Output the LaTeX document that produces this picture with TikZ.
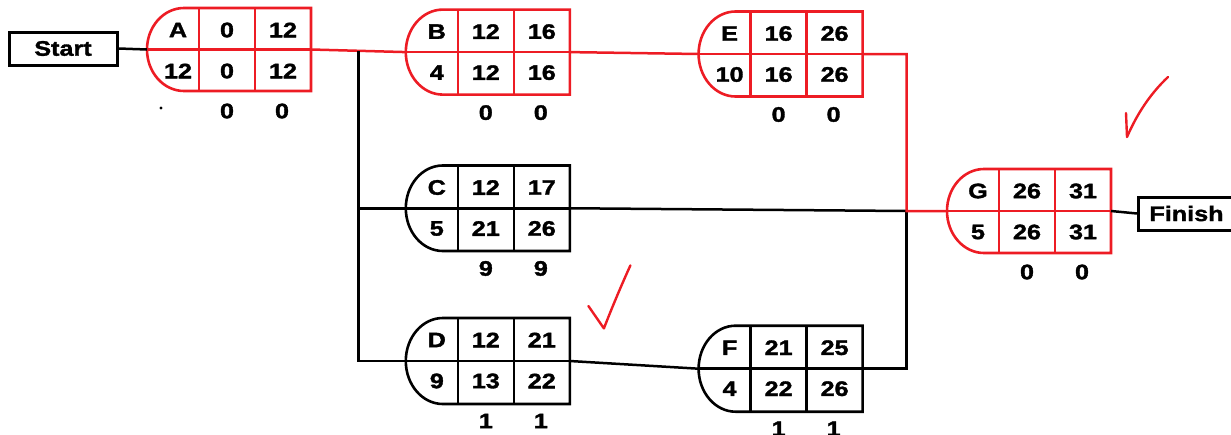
\documentclass[tikz,border=0pt]{standalone}
\usepackage{fontspec}
\newfontfamily\lbl{Liberation Sans}[FakeStretch=1.2, FakeBold=1.6]
\usetikzlibrary{calc}
\definecolor{critred}{RGB}{237,28,36}

% one activity box: name, left x, top y, colour, height
\newcommand\actbox[5]{%
  \begin{scope}[shift={(#2,#3)}, yscale=#5/85]
    \draw[#4, boxline] (37,0) -- (164,0) -- (164,85) -- (37,85)
      .. controls (16.6,85) and (0,66) .. (0,42.5)
      .. controls (0,19) and (16.6,0) .. (37,0) -- cycle;
    \draw[#4, boxline] (0,42.5) -- (164,42.5) (52,0) -- (52,85) (108,0) -- (108,85);
    \coordinate (#1-in) at (0,42.5);
    \coordinate (#1-out) at (164,42.5);
  \end{scope}
  \coordinate (#1-o) at (#2,#3);}
% its entries: name, label, duration, ES, EF, LS, LF, slack under ES, slack under EF
\newcommand\acttext[9]{%
  \begin{scope}[shift={(#1-o)}]
    \node[txt] (#1-name) at (31,22) {#2};
    \node[txt] (#1-dur)  at (31,63) {#3};
    \node[txt] (#1-es)   at (80,22) {#4};
    \node[txt] (#1-ef)   at (136,22) {#5};
    \node[txt] (#1-ls)   at (80,63) {#6};
    \node[txt] (#1-lf)   at (136,63) {#7};
    \node[txt] (#1-s1)   at (80,103) {#8};
    \node[txt] (#1-s2)   at (135,103) {#9};
  \end{scope}}

\begin{document}
\begin{tikzpicture}[x=1pt, y=-1pt,
  txt/.style={inner sep=0pt, font=\lbl\bfseries\fontsize{21}{21}\selectfont},
  boxline/.style={line width=2.6pt, line join=miter},
  plain/.style={line width=2.5pt, black},
  crit/.style={line width=2.5pt, critred},
  termbox/.style={draw, line width=3pt, minimum height=33pt, inner sep=0pt,
    font=\lbl\bfseries\fontsize{21}{21}\selectfont},
  tick/.style={line width=2.4pt, critred, line cap=round, line join=round}]
\useasboundingbox (0,0) rectangle (1231,434);

% activity boxes
\actbox{A}{147}{8}{critred}{83}
\actbox{B}{405.8}{9.6}{critred}{85}
\actbox{E}{698.6}{11.5}{critred}{85}
\actbox{C}{405.8}{165.5}{black}{85.5}
\actbox{D}{405.8}{318}{black}{86}
\actbox{F}{698.6}{325.7}{black}{86}
\actbox{G}{947}{169}{critred}{84}

\acttext{A}{A}{12}{0}{12}{0}{12}{0}{0}
\acttext{B}{B}{4}{12}{16}{12}{16}{0}{0}
\acttext{E}{E}{10}{16}{26}{16}{26}{0}{0}
\acttext{C}{C}{5}{12}{17}{21}{26}{9}{9}
\acttext{D}{D}{9}{12}{21}{13}{22}{1}{1}
\acttext{F}{F}{4}{21}{25}{22}{26}{1}{1}
\acttext{G}{G}{5}{26}{31}{26}{31}{0}{0}

% start and finish
\node[termbox, minimum width=108pt] (start) at (63,48.5) {Start};
\node[termbox, minimum width=96pt, anchor=west] (finish) at (1137,213.5) {Finish};

% branching points
\path (A-out) -- (B-in) coordinate[pos=0.5] (j1);
\coordinate (j2) at (906.5,211);

% connectors
\draw[plain] (start.east) -- (A-in);
\draw[crit] (A-out) -- (B-in);
\draw[plain] (j1) |- (D-in);
\draw[plain] (j1 |- C-in) -- (C-in);
\draw[crit] (B-out) -- (E-in);
\draw[plain] (C-out) -- (j2);
\draw[plain] (D-out) -- (F-in);
\draw[plain] (F-out) -| (j2);
\draw[crit] (E-out) -| (j2) -- (G-in);
\draw[plain] (G-out) -- (finish.west);

% stray dot under A
\fill (161,108) circle[radius=1.6];

% check marks
\draw[tick] (1126,113) -- (1127,137) .. controls (1137,114) and (1150,94) .. (1168,77);
\draw[tick] (588.4,306) -- (603.9,328.4) .. controls (611,310) and (621,286) .. (630.4,265.4);
\end{tikzpicture}
\end{document}
